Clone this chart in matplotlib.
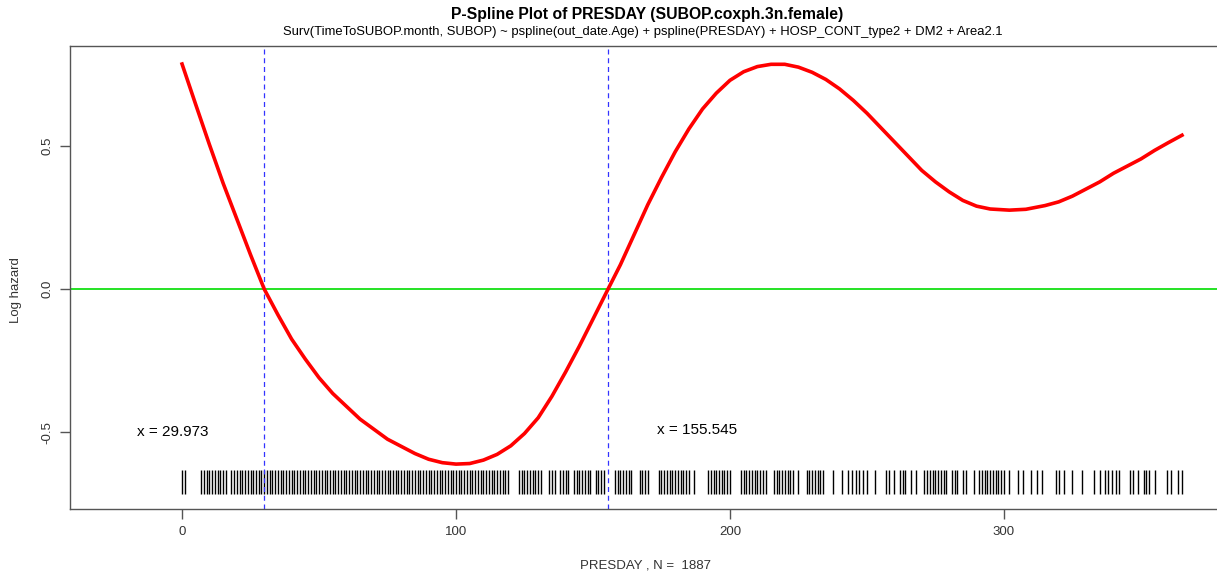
import matplotlib
matplotlib.use('Agg')
import matplotlib.pyplot as plt

plt.rcParams['font.family'] = ['Liberation Sans', 'DejaVu Sans']

# spline fit (PRESDAY, log hazard)
spline_x = [0, 5, 10, 15, 20, 25, 30, 35, 40, 45, 50, 55, 60, 65, 70, 75, 80, 85,
            90, 95, 100, 105, 110, 115, 120, 125, 130, 135, 140, 145, 150, 155.5,
            160, 165, 170, 175, 180, 185, 190, 195, 200, 205, 210, 215, 220, 225,
            230, 235, 240, 245, 250, 255, 260, 265, 270, 275, 280, 285, 290, 295,
            302, 308, 315, 320, 325, 330, 335, 340, 345, 350, 355, 360, 365]
spline_y = [0.787, 0.645, 0.505, 0.37, 0.245, 0.12, 0.0, -0.09, -0.175, -0.245,
            -0.31, -0.365, -0.41, -0.455, -0.49, -0.525, -0.55, -0.575, -0.595,
            -0.607, -0.612, -0.61, -0.598, -0.578, -0.548, -0.505, -0.45, -0.375,
            -0.29, -0.2, -0.105, 0.0, 0.085, 0.19, 0.295, 0.39, 0.48, 0.56, 0.63,
            0.685, 0.73, 0.76, 0.778, 0.786, 0.786, 0.776, 0.758, 0.733, 0.70, 0.66,
            0.615, 0.565, 0.515, 0.465, 0.415, 0.375, 0.34, 0.31, 0.29, 0.28, 0.276,
            0.279, 0.292, 0.305, 0.325, 0.35, 0.375, 0.405, 0.43, 0.455, 0.485,
            0.512, 0.538]

# observed PRESDAY values (rug)
rug_days = [0, 1,
            7, 8, 9, 10, 11, 12, 13, 14, 15, 16, 18, 19, 20, 21, 22, 23, 24, 25,
            26, 27, 28, 29, 30, 31, 32, 33, 34, 35, 36, 37, 38, 39, 40, 41, 42, 43,
            44, 45, 46, 47, 48, 49, 50, 51, 52, 53, 54, 55, 56, 57, 58, 59, 60, 61,
            62, 63, 64, 65, 66, 67, 68, 69, 70, 71, 72, 73, 74, 75, 76, 77, 78, 79,
            80, 81, 82, 83, 84, 85, 86, 87, 88, 89, 90, 91, 92, 93, 94, 95, 96, 97,
            98, 99, 100, 101, 102, 103, 104, 105, 106, 107, 108, 109, 110, 111, 112,
            113, 114, 115, 116, 117, 118, 119, 123, 124, 125, 126, 127, 128, 129,
            130, 131, 134, 135, 136, 138, 139, 140, 141, 143, 144, 145, 146, 147,
            148, 149, 151, 152, 153, 154,
            158, 159, 160, 161, 162, 163, 164, 167, 168, 169, 170, 174, 175, 176,
            177, 178, 179, 180, 181, 182, 183, 184, 185, 187, 192, 193, 194, 195,
            196, 197, 198, 199, 200, 204, 205, 206, 207, 208, 209, 210, 211, 212,
            213, 216, 217, 218, 219, 220, 221, 222, 223, 225, 228, 229, 230, 231,
            232, 233, 234, 237.6, 241, 243, 244.5, 246, 247, 248.5, 250, 253, 257,
            258, 260, 262, 263, 264, 266, 268, 271, 272, 273, 274, 275, 276, 277,
            278, 279, 281, 282, 283, 285, 286, 289, 291, 292, 293, 294, 295, 296,
            297, 298, 299, 300, 302, 305, 307, 310, 312, 314, 319, 320, 322, 325,
            328.5, 333, 335, 337, 338, 339.5, 341, 342, 346, 347, 349, 351, 352,
            353, 355, 359.5, 361, 363.5, 365]

cut1, cut2 = 29.973, 155.545
n_obs = 1887

fig = plt.figure(figsize=(12.17, 5.75), dpi=100)
ax = fig.add_axes([70 / 1217, 66 / 575, 1152 / 1217, 463 / 575])

ax.plot(spline_x, spline_y, color='red', linewidth=2.6, solid_joinstyle='round', zorder=3)
ax.axhline(0, color='#00dd00', linewidth=1.2, zorder=2)
ax.axvline(cut1, color='#3333ff', linestyle=(0, (4, 3)), linewidth=0.9, zorder=2)
ax.axvline(cut2, color='#3333ff', linestyle=(0, (4, 3)), linewidth=0.9, zorder=2)
ax.vlines(rug_days, -0.717, -0.633, color='black', linewidth=1.0, zorder=1)

ax.text(-3.5, -0.5, f'x = {cut1}', fontsize=11, ha='center', va='center')
ax.text(188, -0.492, f'x = {cut2}', fontsize=11, ha='center', va='center')

ax.set_xlim(-40.9, 379.6)
ax.set_ylim(-0.769, 0.85)
ax.set_xticks([0, 100, 200, 300])
ax.set_yticks([-0.5, 0.0, 0.5])
ax.set_yticklabels(['-0.5', '0.0', '0.5'], rotation=90, va='center')
ax.tick_params(direction='out', length=7, width=1, color='#555555',
               labelcolor='#333333', labelsize=9.5, pad=5)
for s in ax.spines.values():
    s.set_color('#555555')
    s.set_linewidth(1)

fig.text(647 / 1217, 1 - 14 / 575, 'P-Spline Plot of PRESDAY (SUBOP.coxph.3n.female)',
         fontsize=11.3, fontweight='bold', ha='center', va='center')
fig.text(643 / 1217, 1 - 32 / 575,
         'Surv(TimeToSUBOP.month, SUBOP) ~ pspline(out_date.Age) + pspline(PRESDAY) + HOSP_CONT_type2 + DM2 + Area2.1',
         fontsize=9.35, ha='center', va='center')
fig.text(16 / 1217, 1 - 290 / 575, 'Log hazard', fontsize=9.5, rotation=90,
         ha='center', va='center', color='#333333')
fig.text(645 / 1217, 1 - 565 / 575, f'PRESDAY , N =  {n_obs}', fontsize=9.5,
         ha='center', va='center', color='#333333')

fig.savefig('out.png', dpi=100)
